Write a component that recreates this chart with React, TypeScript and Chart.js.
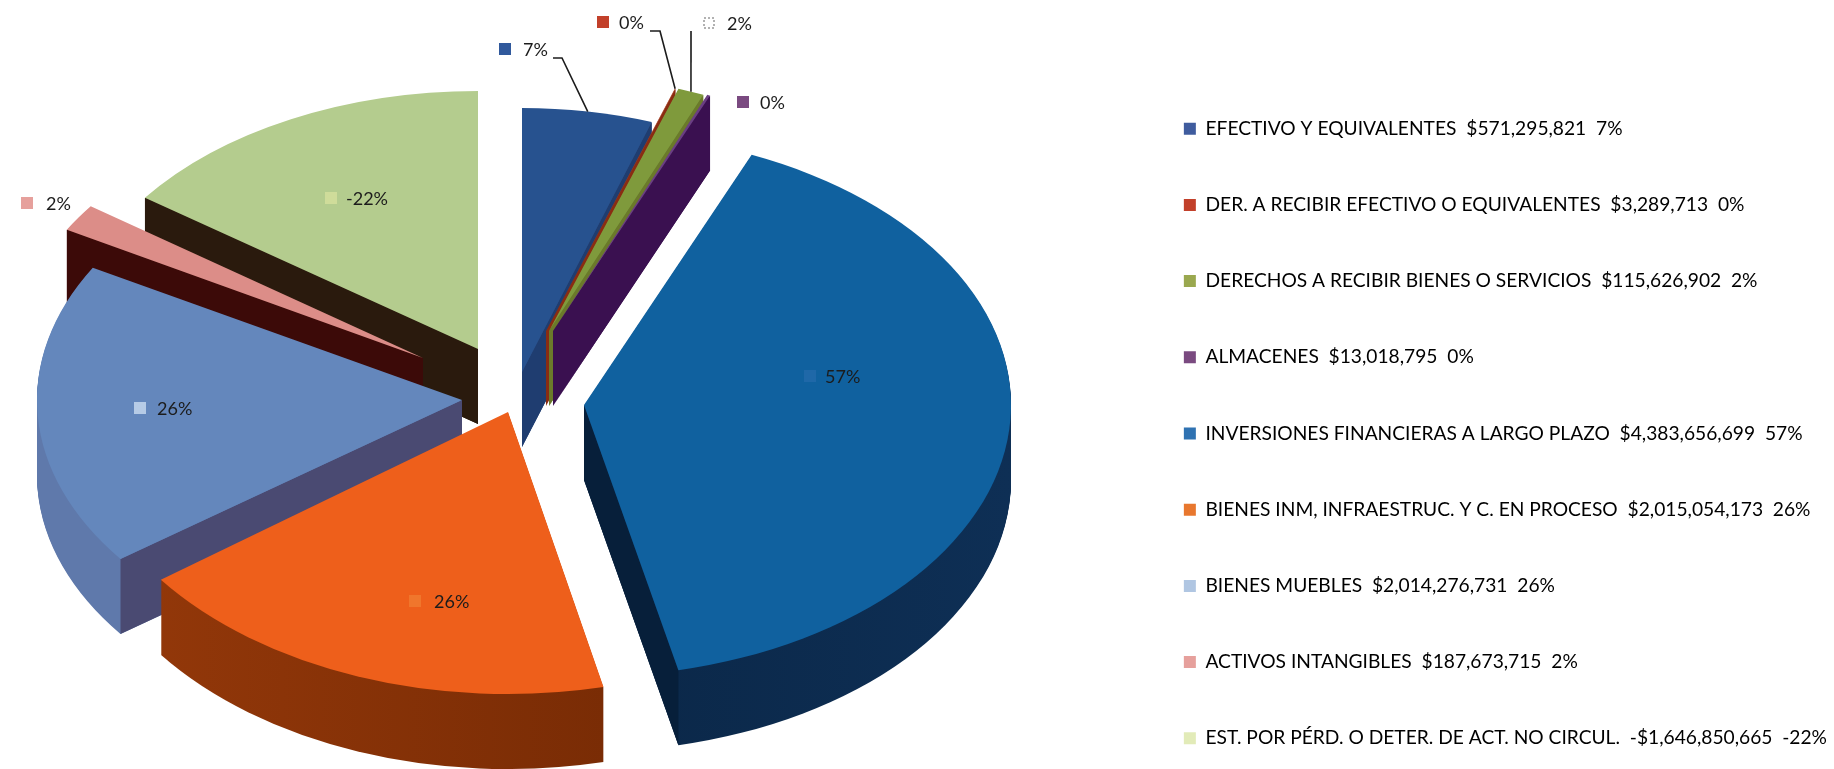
import React, { useEffect, useRef } from "react";
import { Chart, registerables } from "chart.js";

Chart.register(...registerables);

// ---- data ----
const categories = [
  "EFECTIVO Y EQUIVALENTES",
  "DER. A RECIBIR EFECTIVO O EQUIVALENTES",
  "DERECHOS A RECIBIR BIENES O SERVICIOS",
  "ALMACENES",
  "INVERSIONES FINANCIERAS A LARGO PLAZO",
  "BIENES INM, INFRAESTRUC. Y C. EN PROCESO",
  "BIENES MUEBLES",
  "ACTIVOS INTANGIBLES",
  "EST. POR PÉRD. O DETER. DE ACT. NO CIRCUL.",
];
const amounts = [571295821, 3289713, 115626902, 13018795, 4383656699, 2015054173, 2014276731, 187673715, -1646850665];
const percents = [7, 0, 2, 0, 57, 26, 26, 2, -22];

// ---- style ----
const surfaceColors = ["#27528f", "#a8391c", "#7f9a3c", "#6a3f82", "#10619f", "#ee5f1b", "#6487bc", "#dc8d88", "#b4cc8e"];
const legendColors = ["#3f5c9e", "#c2402a", "#9aa84f", "#7a4a80", "#2f72b2", "#e8772e", "#b0c6e2", "#e6a09c", "#e2ebb8"];
const markerColors = ["#30599c", "#c2402a", "", "#7a4a80", "#1f68a8", "#f0762c", "#b6cbe6", "#e6a09c", "#cfdc9a"];
const wallLeft = ["#2b4a80", "#7a2a10", "#5e7328", "#3a1050", "#071f3a", "#96390a", "#5f79ab", "#3c0a08", "#2a1a0d"];
const wallRight = ["#2b4a80", "#7a2a10", "#5e7328", "#3a1050", "#0e2f55", "#682402", "#5f79ab", "#3c0a08", "#2a1a0d"];
const faceColors = ["#1f3d70", "#8a2c12", "#6b7a2a", "#3a1050", "#071f3a", "#682402", "#4a4a72", "#3c0a08", "#2a1a0d"];

const pieCentre = { x: 515, y: 400 };
const sliceShift = [[7, -28], [31, -69], [34, -69], [38, -69], [69, 5], [-7, 12], [-53, 0], [-92, -42], [-37, -51]];
const sliceRx = [403, 400, 400, 400, 427, 432, 425, 410, 411];
const sliceRy = [264, 256, 256, 256, 272, 282, 267, 259, 258];
const depth = 75;
const paintOrder = [8, 7, 6, 5, 0, 1, 2, 3, 4];

// marker centre of each value label, text sits to its right
const labelAt = [[505, 49], [603, 22], [709, 23], [743, 102], [810, 376], [415, 601], [140, 408], [27, 203], [331, 198]];
const labelGap = [18, 16, 18, 17, 15, 19, 17, 19, 15];
// leader elbows relative to the marker centre; the end is on the slice's rim
const leaders: Record<number, number[][]> = {
  0: [[48, 9], [57, 9]],
  1: [[47, 9], [57, 9]],
  2: [[-18, 8]],
};

const money = (v: number) => (v < 0 ? "-$" : "$") + Math.abs(v).toLocaleString("en-US");

const pie3d = {
  id: "pie3d",
  beforeDatasetsDraw(chart: any) {
    const ctx: CanvasRenderingContext2D = chart.ctx;
    const arcs = chart.getDatasetMeta(0).data;
    const place = (i: number, yOff: number, el: any) => {
      ctx.translate(pieCentre.x + sliceShift[i][0], pieCentre.y + sliceShift[i][1] + yOff);
      ctx.scale(sliceRx[i] / el.outerRadius, sliceRy[i] / el.outerRadius);
      ctx.translate(-el.x, -el.y);
    };
    const paint = (i: number, el: any, colour: any, yOff: number) => {
      const saved = el.options;
      el.options = { ...saved, backgroundColor: colour, borderWidth: 0 };
      ctx.save();
      place(i, yOff, el);
      el.draw(ctx);
      ctx.restore();
      el.options = saved;
    };
    for (const i of paintOrder) {
      const el = arcs[i];
      const R = el.outerRadius;
      const g = ctx.createLinearGradient(el.x - R, 0, el.x + R, 0);
      g.addColorStop(0, wallLeft[i]);
      g.addColorStop(1, wallRight[i]);
      for (let y = depth; y > 0; y -= 1) paint(i, el, g, y);
      // radial face turned towards the viewer
      const tipX = pieCentre.x + sliceShift[i][0];
      const tipY = pieCentre.y + sliceShift[i][1];
      const faces: number[] = [];
      if (Math.cos(el.startAngle) < 0) faces.push(el.startAngle);
      if (Math.cos(el.endAngle) > 0) faces.push(el.endAngle);
      for (const a of faces) {
        const cx = tipX + Math.cos(a) * sliceRx[i];
        const cy = tipY + Math.sin(a) * sliceRy[i];
        ctx.fillStyle = faceColors[i];
        ctx.beginPath();
        ctx.moveTo(tipX, tipY);
        ctx.lineTo(cx, cy);
        ctx.lineTo(cx, cy + depth);
        ctx.lineTo(tipX, tipY + depth);
        ctx.closePath();
        ctx.fill();
      }
      paint(i, el, surfaceColors[i], 0);
    }
    return false;
  },
  afterDraw(chart: any) {
    const ctx: CanvasRenderingContext2D = chart.ctx;
    const arcs = chart.getDatasetMeta(0).data;
    ctx.save();
    ctx.font = "18px Lato";
    ctx.textBaseline = "middle";
    ctx.textAlign = "left";
    percents.forEach((p, i) => {
      const [mx, my] = labelAt[i];
      const size = 12;
      if (markerColors[i]) {
        ctx.fillStyle = markerColors[i];
        ctx.fillRect(mx - size / 2, my - size / 2, size, size);
      } else {
        ctx.strokeStyle = "#999999";
        ctx.lineWidth = 1.5;
        ctx.setLineDash([2, 2]);
        ctx.strokeRect(mx - 5, my - 5, 10, 10);
        ctx.setLineDash([]);
      }
      ctx.fillStyle = "#1c1c1c";
      ctx.fillText(p + "%", mx + labelGap[i], my + 1);
      const elbow = leaders[i];
      if (elbow) {
        const el = arcs[i];
        const mid = (el.startAngle + el.endAngle) / 2;
        const ex = pieCentre.x + sliceShift[i][0] + Math.cos(mid) * sliceRx[i];
        const ey = pieCentre.y + sliceShift[i][1] + Math.sin(mid) * sliceRy[i];
        ctx.strokeStyle = "#1c1c1c";
        ctx.lineWidth = 1.6;
        ctx.beginPath();
        elbow.forEach(([dx, dy], k) => {
          if (k === 0) ctx.moveTo(mx + dx, my + dy);
          else ctx.lineTo(mx + dx, my + dy);
        });
        ctx.lineTo(ex, ey);
        ctx.stroke();
      }
    });
    ctx.restore();
  },
};

export default function App() {
  const ref = useRef<HTMLCanvasElement>(null);
  useEffect(() => {
    document.body.style.margin = "0";
    document.body.style.background = "#ffffff";
    const chart = new Chart(ref.current as HTMLCanvasElement, {
      type: "pie",
      data: {
        labels: categories,
        datasets: [
          {
            data: amounts.map((v) => Math.abs(v)),
            backgroundColor: surfaceColors,
            borderWidth: 0,
          },
        ],
      },
      options: {
        animation: false,
        responsive: false,
        devicePixelRatio: 1,
        events: [],
        layout: { padding: { top: 20, bottom: -78, right: -3 } },
        plugins: {
          tooltip: { enabled: false },
          legend: {
            position: "right",
            align: "center",
            labels: {
              boxWidth: 12,
              boxHeight: 12,
              padding: 57,
              color: "#1c1c1c",
              font: { family: "Lato", size: 19.2 },
              generateLabels: () =>
                categories.map((c, i) => ({
                  text: `${c}  ${money(amounts[i])}  ${percents[i]}%`,
                  fillStyle: legendColors[i],
                  strokeStyle: "transparent",
                  lineWidth: 0,
                  hidden: false,
                  index: i,
                })),
            },
          },
        },
      },
      plugins: [pie3d],
    } as any);
    return () => chart.destroy();
  }, []);
  return <canvas ref={ref} width={1834} height={769} style={{ display: "block", width: 1834, height: 769 }} />;
}
